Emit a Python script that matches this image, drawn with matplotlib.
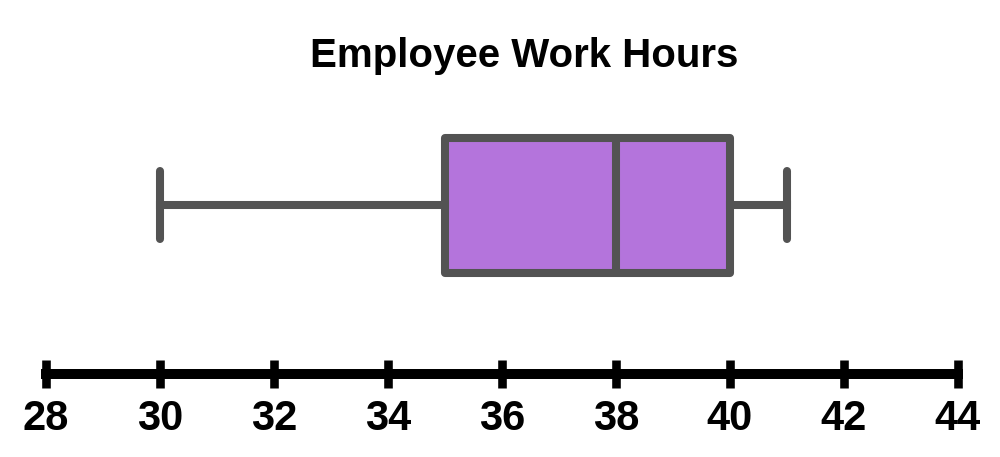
import matplotlib
matplotlib.use("Agg")
import matplotlib.pyplot as plt

plt.rcParams['font.family'] = ['Liberation Sans', 'DejaVu Sans']

# five-number summary
title = "Employee Work Hours"
minimum = 30
q1 = 35
median = 38
q3 = 40
maximum = 41
ticks = [28, 30, 32, 34, 36, 38, 40, 42, 44]

box_face = "#b474dc"
box_edge = "#535353"

fig = plt.figure(figsize=(10, 4.57), dpi=100)
ax = fig.add_axes([0, 0, 1, 1])

# pixel-ish vertical scale, top = 0
ax.set_ylim(457, 0)
ax.set_xlim(28 - 46 / 57, 44 + 42 / 57)

stats = [{
    'whislo': minimum, 'q1': q1, 'med': median, 'q3': q3, 'whishi': maximum,
    'fliers': [],
}]
lw = 5.8
ax.bxp(
    stats,
    positions=[205],
    widths=135,
    capwidths=68,
    orientation='horizontal',
    patch_artist=True,
    showfliers=False,
    manage_ticks=False,
    boxprops=dict(facecolor=box_face, edgecolor=box_edge, linewidth=lw, joinstyle='round'),
    medianprops=dict(color=box_edge, linewidth=lw),
    whiskerprops=dict(color=box_edge, linewidth=lw),
    capprops=dict(color=box_edge, linewidth=lw, solid_capstyle='round'),
)

for side in ['top', 'left', 'right']:
    ax.spines[side].set_visible(False)
ax.spines['bottom'].set_position(('data', 374))
ax.spines['bottom'].set_bounds(ticks[0], ticks[-1])
ax.spines['bottom'].set_linewidth(7.2)
ax.spines['bottom'].set_color('black')

ax.set_yticks([])
ax.set_xticks(ticks)
ax.set_xticklabels([str(t) for t in ticks])
ax.tick_params(axis='x', direction='inout', length=20, width=6.2, pad=8,
               labelsize=30, colors='black')
for lbl in ax.get_xticklabels():
    lbl.set_fontweight('bold')

fig.text(0.524, 1 - 67 / 457, title, ha='center', va='baseline',
         fontsize=29, fontweight='bold')

fig.savefig("out.png", dpi=100)
